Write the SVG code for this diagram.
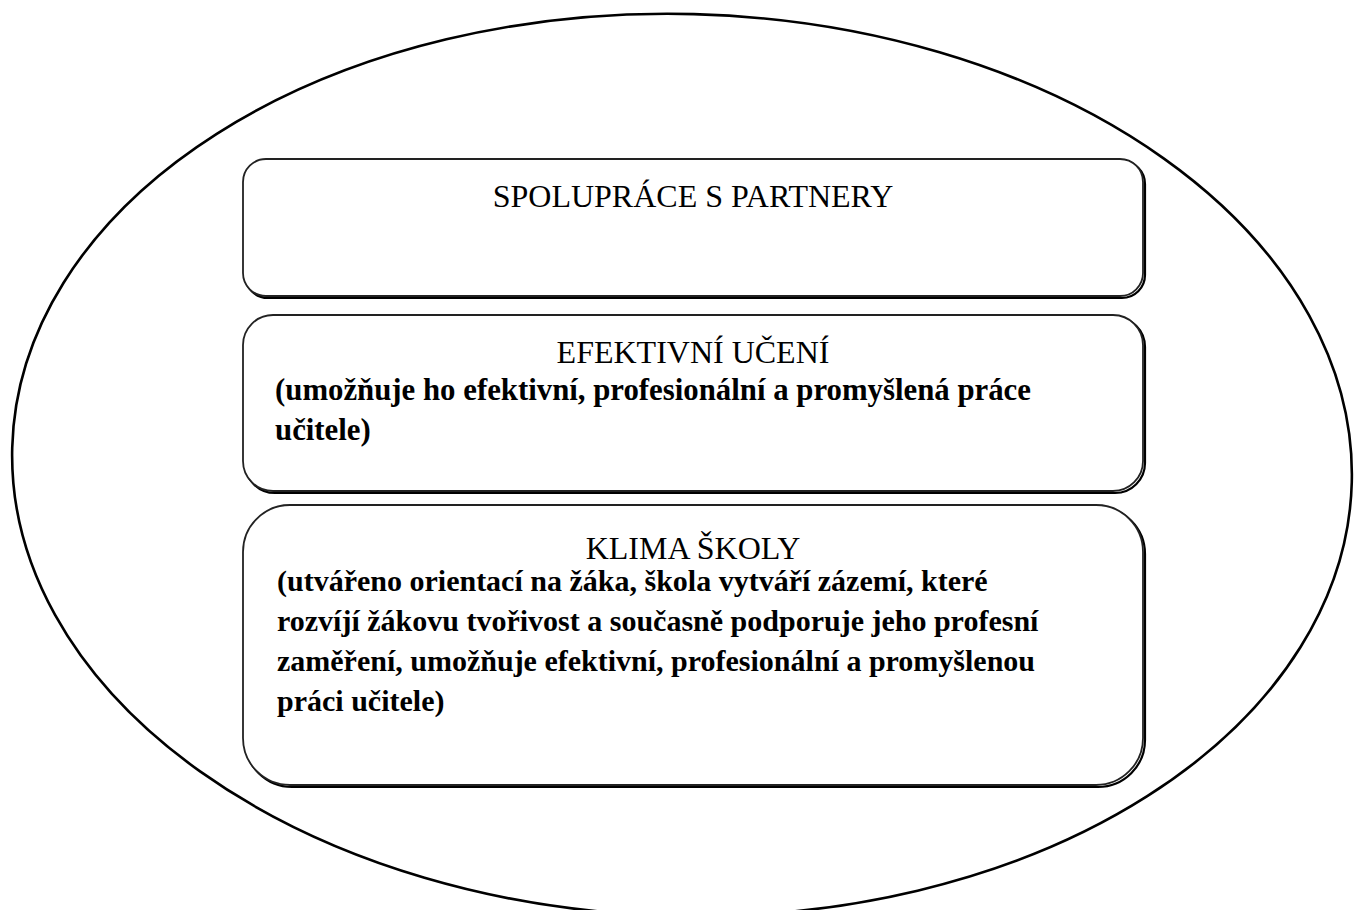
<svg xmlns="http://www.w3.org/2000/svg" width="1354" height="910" viewBox="0 0 1354 910">
<defs>
<style>
.box{fill:#fff;stroke:#222;stroke-width:1.8}
.shadow{fill:none;stroke:#000;stroke-width:2.2}
.title{font-family:"Liberation Serif","Times New Roman",serif;font-size:32px;fill:#000;text-anchor:middle}
.body{font-family:"Liberation Serif","Times New Roman",serif;font-size:30.8px;font-weight:bold;fill:#000}
.body2{font-family:"Liberation Serif","Times New Roman",serif;font-size:30px;font-weight:bold;fill:#000}
</style>
</defs>
<rect width="1354" height="910" fill="#fff"/>
<g id="outer">
<ellipse cx="682" cy="465" rx="670" ry="451" transform="rotate(1.5 682 465)" fill="none" stroke="#000" stroke-width="2.6"/>
</g>
<g id="connectors"></g>
<g id="box1">
<rect class="shadow" x="245" y="161" width="900" height="137" rx="23"/>
<rect class="box" x="243" y="159" width="900" height="137" rx="23"/>
<text class="title" x="693" y="207">SPOLUPRÁCE S PARTNERY</text>
</g>
<g id="box2">
<rect class="shadow" x="245" y="317" width="900" height="176" rx="30"/>
<rect class="box" x="243" y="315" width="900" height="176" rx="30"/>
<text class="title" x="693" y="363">EFEKTIVNÍ UČENÍ</text>
<text class="body" x="275" y="400">(umožňuje ho efektivní, profesionální a promyšlená práce</text>
<text class="body" x="275" y="440">učitele)</text>
</g>
<g id="box3">
<rect class="shadow" x="245" y="507" width="900" height="280" rx="47"/>
<rect class="box" x="243" y="505" width="900" height="280" rx="47"/>
<text class="title" x="693" y="559">KLIMA ŠKOLY</text>
<text class="body2" x="277" y="591">(utvářeno orientací na žáka, škola vytváří zázemí, které</text>
<text class="body2" x="277" y="631">rozvíjí žákovu tvořivost a současně podporuje jeho profesní</text>
<text class="body2" x="277" y="671">zaměření, umožňuje efektivní, profesionální a promyšlenou</text>
<text class="body2" x="277" y="711">práci učitele)</text>
</g>
</svg>
